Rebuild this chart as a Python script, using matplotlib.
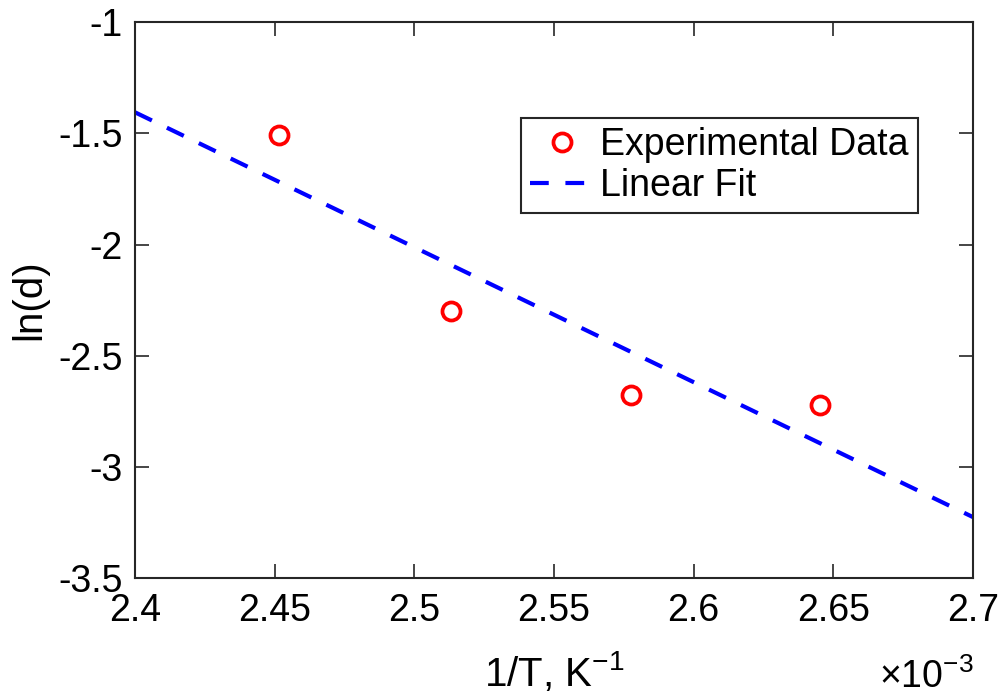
import matplotlib
matplotlib.use("Agg")
import matplotlib.pyplot as plt
import numpy as np

# data (x in units of 1e-3 1/K)
inv_T = [2.4517, 2.5132, 2.5775, 2.6454]
ln_d = [-1.508, -2.300, -2.677, -2.722]
fit_x = [2.40, 2.70]
fit_y = [-1.405, -3.226]
xticks = [2.4, 2.45, 2.5, 2.55, 2.6, 2.65, 2.7]
yticks = [-3.5, -3, -2.5, -2, -1.5, -1]

plt.rcParams['font.family'] = ['Liberation Sans', 'DejaVu Sans']
plt.rcParams['mathtext.fontset'] = 'custom'
plt.rcParams['mathtext.rm'] = 'Liberation Sans'
plt.rcParams['mathtext.it'] = 'Liberation Sans'

fig = plt.figure(figsize=(10, 6.96), dpi=100)
ax = fig.add_axes([0.135, 0.1695, 0.838, 0.7985])

ax.plot(inv_T, ln_d, 'o', linestyle='none', markersize=13, markeredgewidth=2.7,
        markeredgecolor='#ff0000', markerfacecolor='none', label='Experimental Data', zorder=3)
ax.plot(fit_x, fit_y, color='#0000ff', linewidth=3, dashes=(4.5, 4), label='Linear Fit')

ax.set_xlim(2.4, 2.7)
ax.set_ylim(-3.5, -1)
ax.set_xticks(xticks)
ax.set_xticklabels([f"{v:g}" for v in xticks])
ax.set_yticks(yticks)
ax.set_yticklabels([f"{v:g}" for v in yticks])
ax.tick_params(direction='in', length=10, width=1.2, top=True, right=True,
               labelsize=27, colors='#262626', labelcolor='black')
ax.tick_params(axis='x', pad=11)
ax.tick_params(axis='y', pad=9)
for s in ax.spines.values():
    s.set_linewidth(1.5)
    s.set_color('#262626')

ax.set_xlabel('1/T, K$^{-1}$', fontsize=29, labelpad=15)
ax.set_ylabel('ln(d)', fontsize=29, labelpad=7)
fig.text(0.974, 0.012, r'$\times$10$^{-3}$', fontsize=27, ha='right', va='baseline')

leg = ax.legend(loc='upper right', bbox_to_anchor=(0.934, 0.828), fontsize=27,
                frameon=True, fancybox=False, framealpha=1, edgecolor='#262626',
                handlelength=1.7, handletextpad=0.16, borderpad=0.25, labelspacing=0.12,
                borderaxespad=0)
leg.get_frame().set_linewidth(1.5)

fig.savefig('out.png', dpi=100)
